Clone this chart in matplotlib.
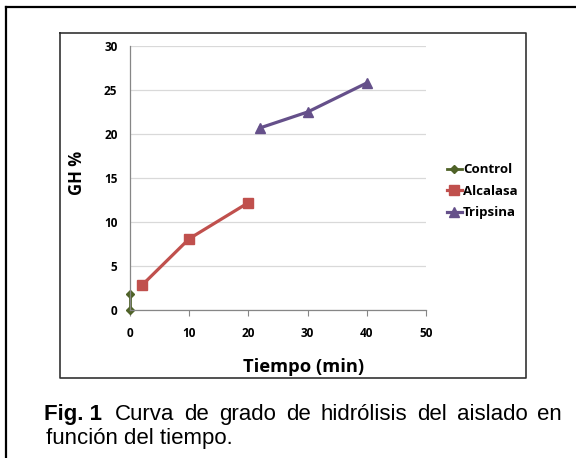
import matplotlib.pyplot as plt
from matplotlib.lines import Line2D

# data
control_t = [0, 0]
control_gh = [0, 1.8]
alcalasa_t = [2, 10, 20]
alcalasa_gh = [2.8, 8.1, 12.2]
tripsina_t = [22, 30, 40]
tripsina_gh = [20.7, 22.5, 25.8]
x_ticks = [0, 10, 20, 30, 40, 50]
y_ticks = [0, 5, 10, 15, 20, 25, 30]
caption1 = 'Curva de grado de hidrólisis del aislado en'
caption2 = 'función del tiempo.'

fig = plt.figure(figsize=(5.76, 4.58), dpi=100)
W, H = 576, 458

def fx(px):
    return px / W

def fy(py):
    return 1 - py / H

# outer frame and chart box
fig.add_artist(Line2D([fx(6), fx(6)], [fy(7), 0], color='black', lw=1.6))
fig.add_artist(Line2D([fx(6), 1], [fy(7), fy(7)], color='black', lw=1.6))
fig.add_artist(Line2D([fx(60), fx(526), fx(526), fx(60), fx(60)],
                      [fy(33), fy(33), fy(378), fy(378), fy(33)],
                      color='#333333', lw=1.2))

ax = fig.add_axes([fx(130), fy(310), fx(426) - fx(130), fy(46) - fy(310)])
ax.set_xlim(0, 50)
ax.set_ylim(0, 30)
ax.set_xticks(x_ticks)
ax.set_yticks(y_ticks)
ax.grid(axis='y', color='#d9d9d9', lw=0.9)
ax.set_axisbelow(True)
for s in ['top', 'right']:
    ax.spines[s].set_visible(False)
for s in ['left', 'bottom']:
    ax.spines[s].set_color('#868686')
    ax.spines[s].set_linewidth(0.9)
ax.tick_params(axis='x', length=4, color='#868686', pad=8)
ax.tick_params(axis='y', length=0, pad=9)
for lab in ax.get_xticklabels() + ax.get_yticklabels():
    lab.set_fontfamily('Open Sans')
    lab.set_fontweight('bold')
    lab.set_fontsize(8.5)

ax.plot(control_t, control_gh, color='#4f6228', marker='D', ms=4.5, lw=2,
        label='Control', clip_on=False)
ax.plot(alcalasa_t, alcalasa_gh, color='#c0504d', marker='s', ms=7, lw=2.3,
        label='Alcalasa', clip_on=False)
ax.plot(tripsina_t, tripsina_gh, color='#65508a', marker='^', ms=7.5, lw=2.3,
        label='Tripsina', clip_on=False)

ax.set_xlabel('Tiempo (min)', fontfamily='Open Sans', fontweight='bold',
              fontsize=13.2)
ax.xaxis.set_label_coords(0.588, -0.18)
ax.set_ylabel('GH %', fontfamily='Open Sans', fontweight='bold',
              fontsize=12)
ax.yaxis.set_label_coords(-0.15, 0.52)

leg = ax.legend(loc='center left', bbox_to_anchor=(1.0, 0.45), frameon=False,
                handlelength=1.1, handletextpad=0.1, labelspacing=0.65,
                borderaxespad=1.2,
                prop={'family': 'Open Sans', 'weight': 'bold', 'size': 9.5})

cap_font = dict(fontsize=16, va='baseline', fontfamily='Liberation Sans')
fig.text(fx(44), fy(420), 'Fig. 1', ha='left', fontweight='bold', **cap_font)

# justified first caption line between x=115 and x=562
fig.canvas.draw()
renderer = fig.canvas.get_renderer()
words = caption1.split()
widths = []
for w in words:
    t = fig.text(0, 0, w, **cap_font)
    widths.append(t.get_window_extent(renderer).width)
    t.remove()
x0, x1 = 115, 562
gap = (x1 - x0 - sum(widths)) / (len(words) - 1)
x = x0
for w, wd in zip(words, widths):
    fig.text(fx(x), fy(420), w, ha='left', **cap_font)
    x += wd + gap
fig.text(fx(46), fy(444), caption2, ha='left', **cap_font)

fig.savefig('out.png', dpi=100)
